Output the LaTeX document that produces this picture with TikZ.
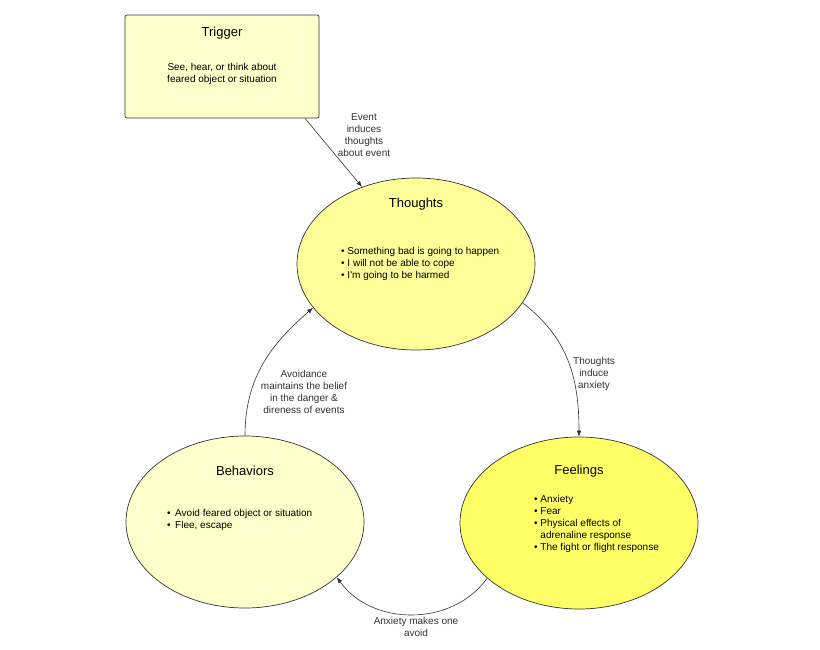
\documentclass[tikz,border=0pt]{standalone}
\usepackage{fontspec}
\setmainfont{Liberation Sans}
\usetikzlibrary{shapes.geometric,arrows.meta}
\definecolor{paleyellow}{RGB}{255,255,204}
\definecolor{midyellow}{RGB}{255,255,153}
\definecolor{deepyellow}{RGB}{255,255,102}
\definecolor{edgegrey}{RGB}{51,51,51}

\begin{document}
\begin{tikzpicture}[x=1pt, y=-1pt,
    bubble/.style={ellipse, draw=edgegrey, line width=0.7pt, minimum width=238pt, minimum height=172pt, inner sep=0pt},
    heading/.style={font=\fontsize{13}{15}\selectfont},
    items/.style={anchor=west, align=left, inner sep=0pt, font=\fontsize{10}{12}\selectfont},
    lbl/.style={align=center, inner sep=0pt, text=black!80, font=\fontsize{10}{12}\selectfont},
    flow/.style={draw=edgegrey, line width=0.6pt, -{Latex[length=6pt,width=4.5pt]}}]
    % background
    \fill[white] (0,0) rectangle (820,649);

    % trigger
    \node[draw=edgegrey, fill=paleyellow, rounded corners=2pt, line width=0.7pt,
          minimum width=194pt, minimum height=103pt] (trigger) at (222,66.5) {};
    \node[heading] (triggerT) at (222,33.5) {Trigger};
    \node[lbl, text=black] (triggerB) at (222,73.5) {See, hear, or think about\\feared object or situation};

    % thoughts
    \node[bubble, fill=midyellow] (thoughts) at (416,264) {};
    \node[heading] (thoughtsT) at (416,204.5) {Thoughts};
    \node[items] (thoughtsL) at (341,264) {\textbullet\ Something bad is going to happen\\
        \textbullet\ I will not be able to cope\\\textbullet\ I\textquotesingle m going to be harmed};

    % feelings
    \node[bubble, fill=deepyellow] (feelings) at (579,523) {};
    \node[heading] (feelingsT) at (579,471.5) {Feelings};
    \node[items] (feelingsL) at (534,524) {\textbullet\ Anxiety\\\textbullet\ Fear\\\textbullet\ Physical effects of\\
        \phantom{\textbullet\ }adrenaline response\\\textbullet\ The fight or flight response};

    % behaviors
    \node[bubble, fill=paleyellow] (behaviors) at (245,522) {};
    \node[heading] (behaviorsT) at (245,470.5) {Behaviors};
    \node[items] (behaviorsL) at (167,520) {\textbullet\hspace{4.5pt}Avoid feared object or situation\\
        \textbullet\hspace{4.5pt}Flee, escape};

    % the cycle
    \draw[flow] (trigger.-32) -- (thoughts.125);
    \draw[flow] (thoughts.-20) .. controls +(45,35) and +(0,-60) .. (feelings.north);
    \draw[flow] (feelings.211) .. controls +(-35,49) and +(35,49) .. (behaviors.-31);
    \draw[flow] (behaviors.north) .. controls +(0,-60) and +(-40,35) .. (thoughts.203);

    % edge texts
    \node[lbl] (eventLbl) at (364,135) {Event\\induces\\thoughts\\about event};
    \node[lbl] (anxietyLbl) at (594,374) {Thoughts\\induce\\anxiety};
    \node[lbl] (avoidLbl) at (416,627) {Anxiety makes one\\avoid};
    \node[lbl] (beliefLbl) at (304,392) {Avoidance\\maintains the belief\\in the danger \&\\direness of events};
\end{tikzpicture}
\end{document}
